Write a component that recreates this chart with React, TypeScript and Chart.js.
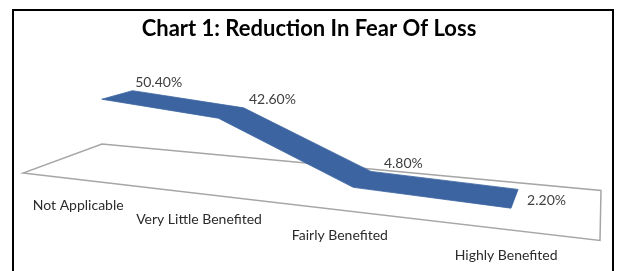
import React, { useEffect, useRef } from 'react';
import { Chart, registerables } from 'chart.js';

Chart.register(...registerables);

// ---- data ----
const categories: string[] = ['Not Applicable', 'Very Little Benefited', 'Fairly Benefited', 'Highly Benefited'];
const reductionValues: number[] = [50.4, 42.6, 4.8, 2.2];
const chartTitle = 'Chart 1: Reduction In Fear Of Loss';

// ---- 3D look (layout / style) ----
const FLOOR: [number, number][] = [
  [23, 173],    // front-left
  [600, 240.5], // front-right
  [601, 190.5], // back-right
  [102, 144],   // back-left
];
const RIBBON_FRONT = 0.3;
const RIBBON_BACK = 0.72;
const HEIGHT_PX = 84; // pixel height of the full value range at unit perspective scale
const RIBBON_COLOR = '#3B64A0';
const FONT = 'Lato, "Open Sans", sans-serif';

function makeHomography(q: [number, number][]) {
  const [[x0, y0], [x1, y1], [x2, y2], [x3, y3]] = q;
  const dx1 = x1 - x2, dx2 = x3 - x2, dx3 = x0 - x1 + x2 - x3;
  const dy1 = y1 - y2, dy2 = y3 - y2, dy3 = y0 - y1 + y2 - y3;
  const den = dx1 * dy2 - dx2 * dy1;
  const g = (dx3 * dy2 - dx2 * dy3) / den;
  const h = (dx1 * dy3 - dx3 * dy1) / den;
  const a = x1 - x0 + g * x1, b = x3 - x0 + h * x3, c = x0;
  const d = y1 - y0 + g * y1, e = y3 - y0 + h * y3, f = y0;
  return (u: number, w: number) => {
    const z = g * u + h * w + 1;
    return { x: (a * u + b * w + c) / z, y: (d * u + e * w + f) / z, s: 1 / z };
  };
}

const ribbonPlugin = {
  id: 'ribbon3d',
  beforeDraw(chart: any) {
    const ctx = chart.ctx as CanvasRenderingContext2D;
    ctx.save();
    ctx.fillStyle = '#ffffff';
    ctx.fillRect(0, 0, chart.width, chart.height);
    ctx.strokeStyle = '#000000';
    ctx.lineWidth = 2;
    ctx.strokeRect(13, 10, 600, 280);
    ctx.restore();
  },
  afterDatasetsDraw(chart: any) {
    const ctx = chart.ctx as CanvasRenderingContext2D;
    const xs = chart.scales.x;
    const ys = chart.scales.y;
    const H = makeHomography(FLOOR);
    ctx.save();

    // floor
    ctx.beginPath();
    FLOOR.forEach(([x, y], i) => (i ? ctx.lineTo(x, y) : ctx.moveTo(x, y)));
    ctx.closePath();
    ctx.fillStyle = '#ffffff';
    ctx.fill();
    ctx.strokeStyle = '#A6A6A6';
    ctx.lineWidth = 1.5;
    ctx.stroke();

    const data: number[] = chart.data.datasets[0].data;
    const pts = data.map((v, i) => {
      const u = (xs.getPixelForValue(i) - xs.left) / xs.width;
      const frac = (ys.bottom - ys.getPixelForValue(v)) / (ys.bottom - ys.top);
      const at = (w: number) => {
        const p = H(u, w);
        return { x: p.x, y: p.y - frac * HEIGHT_PX * p.s };
      };
      return { u, v, front: at(RIBBON_FRONT), back: at(RIBBON_BACK), mid: at((RIBBON_FRONT + RIBBON_BACK) / 2), base: H(u, 0) };
    });

    // ribbon
    ctx.beginPath();
    pts.forEach((p, i) => (i ? ctx.lineTo(p.front.x, p.front.y) : ctx.moveTo(p.front.x, p.front.y)));
    for (let i = pts.length - 1; i >= 0; i--) ctx.lineTo(pts[i].back.x, pts[i].back.y);
    ctx.closePath();
    ctx.fillStyle = RIBBON_COLOR;
    ctx.fill();
    ctx.strokeStyle = RIBBON_COLOR;
    ctx.lineWidth = 0.8;
    ctx.stroke();

    // category labels
    ctx.fillStyle = '#2B2B2B';
    ctx.font = `14px ${FONT}`;
    ctx.textAlign = 'center';
    ctx.textBaseline = 'middle';
    pts.forEach((p, i) => {
      ctx.fillText(String(chart.data.labels[i]), p.base.x + 1, p.base.y + 26);
    });

    // value labels
    ctx.fillStyle = '#404040';
    pts.forEach((p, i) => {
      const txt = p.v.toFixed(2) + '%';
      if (i === pts.length - 1) {
        ctx.textAlign = 'left';
        ctx.fillText(txt, Math.max(p.front.x, p.back.x) + 9, (p.front.y + p.back.y) / 2 + 2);
      } else {
        ctx.textAlign = 'center';
        ctx.fillText(txt, p.mid.x + 41, p.back.y - 8);
      }
    });
    ctx.restore();
  },
};

export default function App() {
  const ref = useRef<HTMLCanvasElement | null>(null);
  useEffect(() => {
    if (!ref.current) return;
    const chart = new Chart(ref.current, {
      type: 'line',
      data: {
        labels: categories,
        datasets: [
          {
            label: 'Reduction In Fear Of Loss',
            data: reductionValues,
            showLine: false,
            pointRadius: 0,
            borderWidth: 0,
          },
        ],
      },
      options: {
        responsive: false,
        animation: false,
        devicePixelRatio: 1,
        layout: { padding: { left: 20, right: 20, top: 0, bottom: 20 } },
        scales: {
          x: { type: 'category', offset: true, display: false },
          y: { type: 'linear', min: -1, max: 60, display: false },
        },
        plugins: {
          legend: { display: false },
          tooltip: { enabled: false },
          title: {
            display: true,
            text: chartTitle,
            color: '#000000',
            font: { family: FONT, size: 22, weight: 'bold' },
            padding: { top: 16, bottom: 10 },
          },
        },
      },
      plugins: [ribbonPlugin],
    });
    return () => chart.destroy();
  }, []);
  return (
    <div style={{ position: 'absolute', left: 0, top: 0, width: 618, height: 271 }}>
      <canvas ref={ref} width={618} height={271} style={{ width: 618, height: 271 }} />
    </div>
  );
}
